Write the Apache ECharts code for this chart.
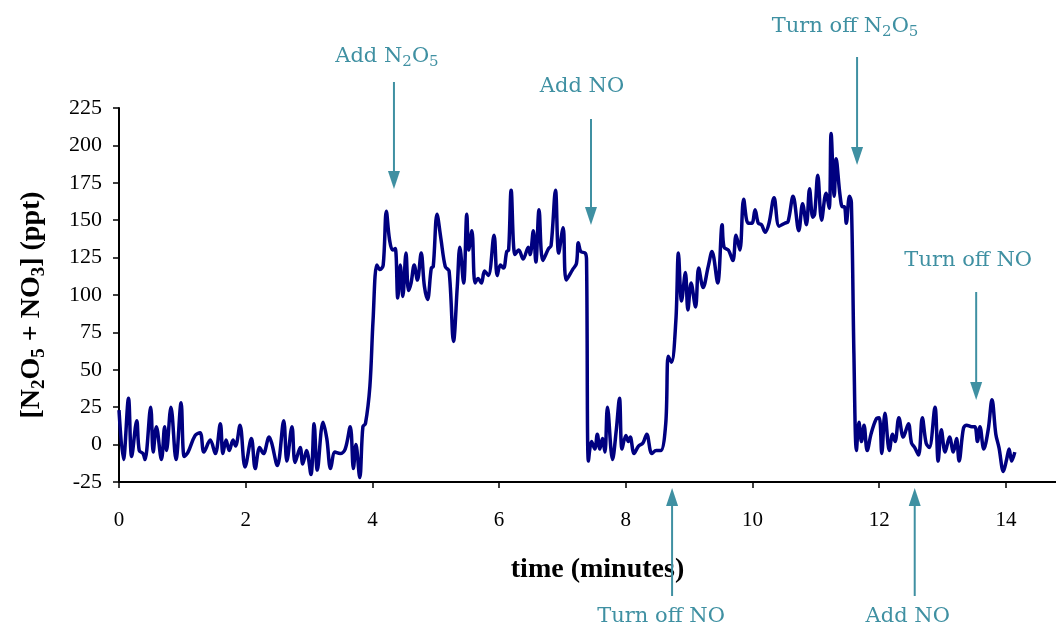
<!DOCTYPE html>
<html>
<head>
<meta charset="utf-8">
<script src="https://cdn.jsdelivr.net/npm/echarts@6/dist/echarts.min.js"></script>
<style>
html,body{margin:0;padding:0;background:#fff;}
#chart{width:1056px;height:632px;}
</style>
</head>
<body>
<div id="chart"></div>
<script>
// time (minutes)
const times = [
 0, 0.07, 0.15, 0.2, 0.28, 0.32, 0.38, 0.41, 0.5, 0.54, 0.59, 0.67, 0.72, 0.75, 0.82, 0.9, 0.98, 1.03, 1.09, 1.2,
 1.28, 1.34, 1.44, 1.52, 1.6, 1.64, 1.69, 1.74, 1.8, 1.84, 1.91, 1.99, 2.09, 2.15, 2.22, 2.28, 2.37, 2.41, 2.5, 2.6,
 2.65, 2.73, 2.78, 2.86, 2.9, 2.96, 3.03, 3.08, 3.13, 3.22, 3.28, 3.34, 3.41, 3.49, 3.57, 3.65, 3.7, 3.74, 3.8, 3.85,
 3.89, 3.96, 4.01, 4.07, 4.12, 4.17, 4.22, 4.27, 4.32, 4.36, 4.4, 4.44, 4.48, 4.53, 4.57, 4.61, 4.66, 4.71, 4.77, 4.82,
 4.87, 4.93, 4.96, 5.02, 5.08, 5.15, 5.21, 5.28, 5.34, 5.38, 5.44, 5.49, 5.52, 5.57, 5.62, 5.67, 5.72, 5.77, 5.83, 5.92,
 5.97, 6.02, 6.07, 6.12, 6.15, 6.19, 6.25, 6.31, 6.38, 6.46, 6.49, 6.54, 6.58, 6.63, 6.69, 6.78, 6.82, 6.89, 6.94, 7.01,
 7.06, 7.16, 7.22, 7.25, 7.29, 7.36, 7.38, 7.41, 7.46, 7.51, 7.55, 7.59, 7.63, 7.67, 7.71, 7.79, 7.85, 7.9, 7.94, 8.0,
 8.04, 8.07, 8.13, 8.2, 8.27, 8.33, 8.41, 8.48, 8.55, 8.63, 8.67, 8.72, 8.79, 8.83, 8.88, 8.94, 8.98, 9.03, 9.1, 9.15,
 9.22, 9.3, 9.36, 9.45, 9.52, 9.55, 9.62, 9.69, 9.74, 9.8, 9.86, 9.93, 9.99, 10.04, 10.09, 10.14, 10.2, 10.26, 10.34, 10.42,
 10.51, 10.56, 10.64, 10.73, 10.79, 10.85, 10.9, 10.95, 10.98, 11.03, 11.09, 11.16, 11.21, 11.24, 11.29, 11.32, 11.38, 11.42, 11.45, 11.48,
 11.53, 11.56, 11.6, 11.64, 11.68, 11.72, 11.76, 11.81, 11.87, 11.95, 12.0, 12.04, 12.09, 12.16, 12.21, 12.25, 12.31, 12.38, 12.46, 12.51,
 12.56, 12.62, 12.68, 12.74, 12.79, 12.88, 12.93, 12.98, 13.04, 13.11, 13.17, 13.22, 13.26, 13.33, 13.38, 13.46, 13.51, 13.55, 13.59, 13.65,
 13.72, 13.78, 13.84, 13.89, 13.96, 14.01, 14.05, 14.09, 14.14
];
// [N2O5 + NO3] (ppt)
const values = [
 23, -10, 31, -8, 16, -4, -6, -10, 25, -5, 12, -10, 12, -4, 25, -10, 28, -8, -5, 6,
 8, -5, 3, -6, 14, -6, 3, -4, 3, -1, 13, -15, 4, -16, -2, -6, 5, 1, -14, 16,
 -11, 12, -12, -2, -13, -4, -20, 14, -17, 15, 4, -16, -5, -6, -3, 12, -16, 0, -22, 12,
 14, 39, 83, 120, 117, 120, 156, 137, 130, 131, 98, 120, 99, 128, 103, 108, 120, 110, 128, 106,
 97, 118, 119, 154, 138, 119, 116, 69, 106, 132, 108, 154, 130, 143, 108, 111, 108, 116, 113, 140,
 113, 120, 118, 129, 130, 170, 127, 130, 124, 132, 127, 143, 122, 157, 123, 131, 133, 170, 128, 145,
 110, 117, 121, 135, 129, 128, 123, -11, 2, -3, 7, -3, 4, -5, 25, -10, 10, 31, -3, 6,
 2, 5, -6, -1, 1, 7, -6, -4, -4, 14, 59, 55, 83, 128, 96, 115, 90, 108, 92, 118,
 105, 119, 129, 108, 147, 132, 130, 123, 140, 130, 164, 148, 148, 157, 148, 147, 142, 148, 165, 146,
 148, 149, 166, 143, 161, 147, 171, 152, 154, 180, 150, 168, 158, 208, 166, 191, 167, 159, 159, 148,
 166, 162, 61, -4, 15, 2, 13, -4, 7, 17, 18, -6, 21, -4, 7, 2, 18, 5, 14, 1,
 -2, -7, 18, 1, -2, 25, -11, 10, -5, 5, -5, 4, -11, 11, 13, 12, 12, 2, 12, -3,
 10, 30, 7, -2, -18, -10, -3, -11, -5
];
const xTickValues = [0, 2, 4, 6, 8, 10, 12, 14];
const yTickLabels = [-25, 0, 25, 50, 75, 100, 125, 150, 175, 200, 225];
// annotations: label, time of arrow, direction
const annotations = [
  {text: 'Add N{s|2}O{s|5}', t: 4.34, dir: 'down', textY: 57, y0: 82, y1: 189, dx: -7},
  {text: 'Add NO', t: 7.45, dir: 'down', textY: 87, y0: 119, y1: 225, dx: -9},
  {text: 'Turn off N{s|2}O{s|5}', t: 11.65, dir: 'down', textY: 27, y0: 57, y1: 165, dx: -12},
  {text: 'Turn off NO', t: 13.53, dir: 'down', textY: 261, y0: 292, y1: 400, dx: -8},
  {text: 'Turn off NO', t: 8.73, dir: 'up', textY: 617, y0: 596, y1: 488, dx: -11},
  {text: 'Add NO', t: 12.56, dir: 'up', textY: 617, y0: 596, y1: 488, dx: -7}
];

const serif = '"Liberation Serif", "Times New Roman", serif';
const annColor = '#3f90a2';
const chart = echarts.init(document.getElementById('chart'), null, {renderer: 'canvas'});
const data = times.map((t, i) => [t, values[i]]);

chart.setOption({
  animation: false,
  backgroundColor: '#ffffff',
  grid: {left: 119, right: 0, top: 108, bottom: 150, containLabel: false},
  xAxis: {
    type: 'value', min: 0, max: 14.79,
    name: 'time (minutes)', nameLocation: 'middle', nameGap: 74,
    nameTextStyle: {fontFamily: serif, fontSize: 28, fontWeight: 'bold', color: '#000', padding: [0, 0, 0, 20]},
    axisLine: {onZero: false, lineStyle: {color: '#000', width: 2}},
    axisTick: {show: true, length: 6, lineStyle: {color: '#000', width: 1.5}, customValues: xTickValues},
    axisLabel: {customValues: xTickValues, fontFamily: serif, fontSize: 21, color: '#000', margin: 28},
    splitLine: {show: false}
  },
  yAxis: {
    type: 'value', min: -25, max: 225, interval: 25,
    name: '[N{s|2}O{s|5} + NO{s|3}] (ppt)', nameLocation: 'middle', nameGap: 70, nameRotate: 90,
    nameTextStyle: {
      fontFamily: serif, fontSize: 28, fontWeight: 'bold', color: '#000', lineHeight: 34, padding: [0, 20, 0, 0],
      rich: {s: {fontFamily: serif, fontSize: 19, fontWeight: 'bold', color: '#000', verticalAlign: 'bottom', lineHeight: 24}}
    },
    axisLine: {show: true, lineStyle: {color: '#000', width: 2}},
    axisTick: {show: true, length: 6, lineStyle: {color: '#000', width: 1.5}},
    axisLabel: {fontFamily: serif, fontSize: 22, color: '#000', margin: 17,
      formatter: v => (yTickLabels.indexOf(v) >= 0 ? String(v) : '')},
    splitLine: {show: false}
  },
  series: [{
    type: 'line', data: data, smooth: 0.35, showSymbol: false,
    lineStyle: {color: '#000080', width: 3.5}, clip: false
  }]
});

const graphics = [];
annotations.forEach(a => {
  const x = chart.convertToPixel({xAxisIndex: 0}, a.t);
  const headH = 18, headW = 6;
  const tipY = a.y1;
  const baseY = a.dir === 'down' ? tipY - headH : tipY + headH;
  graphics.push({
    type: 'line', shape: {x1: x, y1: a.y0, x2: x, y2: baseY},
    style: {stroke: annColor, lineWidth: 2}, z: 100
  });
  graphics.push({
    type: 'polygon', shape: {points: [[x - headW, baseY], [x + headW, baseY], [x, tipY]]},
    style: {fill: annColor}, z: 100
  });
  graphics.push({
    type: 'text', x: x + a.dx, y: a.textY, z: 100,
    style: {
      text: a.text, fill: annColor, fontFamily: '"DejaVu Serif", serif', fontSize: 21,
      lineHeight: 26, align: 'center', verticalAlign: 'middle',
      rich: {s: {fontFamily: '"DejaVu Serif", serif', fontSize: 15, fill: annColor, verticalAlign: 'bottom', lineHeight: 18}}
    }
  });
});
chart.setOption({graphic: graphics});
</script>
</body>
</html>
